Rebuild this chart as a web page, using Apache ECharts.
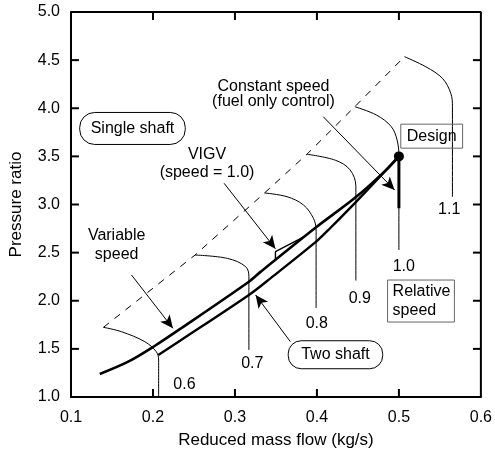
<!DOCTYPE html>
<html>
<head>
<meta charset="utf-8">
<script src="https://cdn.jsdelivr.net/npm/echarts@6/dist/echarts.min.js"></script>
<style>
  html, body { margin: 0; padding: 0; background: #fff; }
  #main { width: 495px; height: 455px; }
</style>
</head>
<body>
<div id="main"></div>
<script>
// 坐标轴刻度
const xTicks = [0.1, 0.2, 0.3, 0.4, 0.5, 0.6]
const yTicks = [1.0, 1.5, 2.0, 2.5, 3.0, 3.5, 4.0, 4.5, 5.0]

// 工作线 (reduced mass flow, pressure ratio)
const singleShaft = [[0.1351, 1.239], [0.1698, 1.367], [0.202, 1.53], [0.2344, 1.714], [0.317, 2.198], [0.3312, 2.30], [0.399, 2.763], [0.448, 3.08], [0.4846, 3.36], [0.5, 3.5]]
const twoShaft = [[0.2065, 1.436], [0.2344, 1.592], [0.317, 2.06], [0.3433, 2.233], [0.399, 2.614], [0.416, 2.753], [0.448, 3.03], [0.5, 3.5]]
const vigvLine = [[0.3494, 2.42], [0.3494, 2.51], [0.3833, 2.66]]
const fuelOnly = [[0.5, 3.5], [0.5, 2.96]]
const designPoint = [[0.5, 3.5]]

// 喘振线 (虚线)
const surgeLine = [[0.1396, 1.724], [0.2513, 2.475], [0.3361, 3.12], [0.3878, 3.522], [0.4462, 4.016], [0.5068, 4.536]]

// 等转速线
const speedNames = ['0.6', '0.7', '0.8', '0.9', '1.0', '1.1']
const speed06 = [[0.1396, 1.724], [0.1617, 1.678], [0.19, 1.575], [0.2041, 1.47], [0.2069, 1.384], [0.2069, 1.0]]
const speed07 = [[0.2513, 2.475], [0.2909, 2.44], [0.3131, 2.354], [0.317, 2.25], [0.317, 1.488]]
const speed08 = [[0.3361, 3.12], [0.3635, 3.081], [0.3836, 2.995], [0.3957, 2.857], [0.399, 2.735], [0.399, 1.925]]
const speed09 = [[0.3878, 3.522], [0.4225, 3.46], [0.4404, 3.36], [0.4475, 3.19], [0.4475, 2.21]]
const speed10 = [[0.4462, 4.016], [0.4725, 3.93], [0.4906, 3.81], [0.4978, 3.67], [0.5, 3.5], [0.5, 2.527]]
const speed11 = [[0.5068, 4.536], [0.533, 4.43], [0.5532, 4.31], [0.5633, 4.155], [0.5653, 4.016], [0.5653, 3.08]]
const speedLabelPos = [[0.2384, 1.125], [0.3212, 1.35], [0.3999, 1.766], [0.4523, 2.018], [0.506, 2.354], [0.5613, 2.943]]

// 注释箭头 [起点, 终点]
const arrows = [
  [[0.4077, 3.912], [0.4947, 3.151]],
  [[0.2868, 3.22], [0.3494, 2.54]],
  [[0.1738, 2.268], [0.2243, 1.714]],
  [[0.3676, 1.575], [0.3252, 2.06]]
]

const font = 'Liberation Sans, Arial, Helvetica, sans-serif'
const chart = echarts.init(document.getElementById('main'))

const thin = (data) => ({
  type: 'line',
  data: data,
  symbol: 'none',
  smooth: 0.35,
  silent: true,
  lineStyle: { color: '#000', width: 1 },
  z: 2
})

const thick = (data, w) => ({
  type: 'line',
  data: data,
  symbol: 'none',
  smooth: 0.3,
  silent: true,
  lineStyle: { color: '#000', width: w },
  z: 3
})

// 文字标注
const boxText = (pos, text, extra) => ({
  value: pos,
  name: text,
  label: Object.assign({
    show: true,
    position: 'inside',
    formatter: text,
    color: '#000',
    fontSize: 16,
    fontFamily: font,
    lineHeight: 18,
    align: 'center'
  }, extra || {})
})

const notes = [
  boxText([0.347, 4.148], 'Constant speed\n(fuel only control)', { lineHeight: 15 }),
  boxText([0.175, 3.79], 'Single shaft', { borderColor: '#000', borderWidth: 1, borderRadius: 15, padding: [7, 11] }),
  boxText([0.2659, 3.43], 'VIGV\n(speed = 1.0)', { lineHeight: 18 }),
  boxText([0.54, 3.71], 'Design', { borderColor: '#666', borderWidth: 1, padding: [3, 6] }),
  boxText([0.1557, 2.579], 'Variable\nspeed', { lineHeight: 19 }),
  boxText([0.4226, 1.439], 'Two shaft', { borderColor: '#000', borderWidth: 1, borderRadius: 13, padding: [5, 13] }),
  boxText([0.4862, 1.997], 'Relative\nspeed', { align: 'left', lineHeight: 19, borderColor: '#666', borderWidth: 1, padding: [2, 4, 2, 5] })
]
speedNames.forEach((n, i) => {
  notes.push(boxText(speedLabelPos[i], n))
})

// 边框与朝内刻度, 用折线画 (刻度长约 8px)
const xMin = xTicks[0]
const xMax = xTicks[xTicks.length - 1]
const yMin = yTicks[0]
const yMax = yTicks[yTicks.length - 1]
const gridW = 495 - 69 - 13
const gridH = 455 - 12 - 58
const dx = 8 / gridW * (xMax - xMin)
const dy = 8 / gridH * (yMax - yMin)
const frameLine = [[xMin, yMin], [xMax, yMin], [xMax, yMax], [xMin, yMax], [xMin, yMin]]
const tickSegs = []
xTicks.slice(1, -1).forEach(v => {
  tickSegs.push([[v, yMin], [v, yMin + dy]])
  tickSegs.push([[v, yMax], [v, yMax - dy]])
})
yTicks.slice(1, -1).forEach(v => {
  tickSegs.push([[xMin, v], [xMin + dx, v]])
  tickSegs.push([[xMax, v], [xMax - dx, v]])
})

const series = [
  Object.assign(thin(surgeLine), { smooth: false, lineStyle: { color: '#000', width: 1, type: [7, 7] } }),
  thin(speed06), thin(speed07), thin(speed08), thin(speed09), thin(speed10), thin(speed11),
  thick(singleShaft, 2.6),
  thick(twoShaft, 2.4),
  Object.assign(thick(vigvLine, 1.4), { smooth: false }),
  Object.assign(thick(fuelOnly, 3), { smooth: false }),
  {
    type: 'scatter',
    data: designPoint,
    symbol: 'circle',
    symbolSize: 10,
    itemStyle: { color: '#000', opacity: 1 },
    silent: true,
    z: 5
  },
  {
    type: 'line',
    data: [],
    silent: true,
    markLine: {
      silent: true,
      animation: false,
      symbol: ['none', 'arrow'],
      symbolSize: [9, 13],
      label: { show: false },
      lineStyle: { color: '#000', width: 1, type: 'solid', opacity: 1 },
      data: arrows.map(a => [{ coord: a[0] }, { coord: a[1] }])
    }
  },
  {
    type: 'line',
    data: frameLine,
    symbol: 'none',
    silent: true,
    clip: false,
    lineStyle: { color: '#000', width: 2 },
    z: 10
  },
  {
    type: 'scatter',
    data: notes,
    symbolSize: 0,
    silent: true,
    itemStyle: { color: '#000', opacity: 1 },
    z: 6
  }
]
tickSegs.forEach(s => {
  series.push({
    type: 'line',
    data: s,
    symbol: 'none',
    silent: true,
    clip: false,
    lineStyle: { color: '#000', width: 2 },
    z: 10
  })
})

const option = {
  animation: false,
  backgroundColor: '#fff',
  grid: { left: 69, right: 13, top: 12, bottom: 58 },
  xAxis: {
    type: 'value',
    min: xMin,
    max: xMax,
    interval: 0.1,
    name: 'Reduced mass flow (kg/s)',
    nameLocation: 'middle',
    nameGap: 35,
    nameTextStyle: { color: '#000', fontSize: 17, fontFamily: font },
    axisLine: { show: true, onZero: false, lineStyle: { color: '#000', width: 2 } },
    axisTick: { show: false },
    splitLine: { show: false },
    axisLabel: { color: '#000', fontSize: 16, fontFamily: font, margin: 13, formatter: v => v.toFixed(1) }
  },
  yAxis: {
    type: 'value',
    min: yMin,
    max: yMax,
    interval: 0.5,
    name: 'Pressure ratio',
    nameLocation: 'middle',
    nameGap: 46,
    nameTextStyle: { color: '#000', fontSize: 17, fontFamily: font },
    axisLine: { show: true, onZero: false, lineStyle: { color: '#000', width: 2 } },
    axisTick: { show: false },
    splitLine: { show: false },
    axisLabel: { color: '#000', fontSize: 16, fontFamily: font, margin: 11, formatter: v => v.toFixed(1) }
  },
  series: series
}
chart.setOption(option)
</script>
</body>
</html>
